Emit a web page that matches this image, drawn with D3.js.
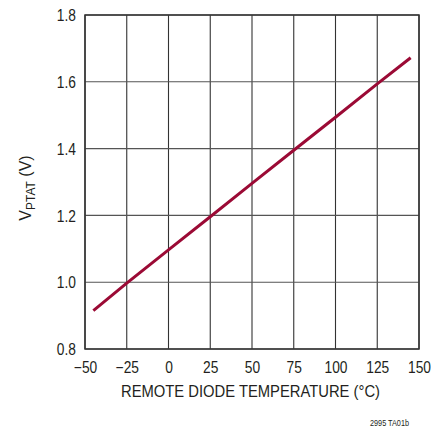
<!DOCTYPE html>
<html><head><meta charset="utf-8">
<script src="https://cdn.jsdelivr.net/npm/d3@7"></script>
<style>body{margin:0;background:#fff}svg{display:block}text{font-family:"Liberation Sans",Arial,sans-serif;fill:#231f20}</style>
</head><body><svg id="c" width="446" height="428"></svg>
<script>
const temps = [-45, -25, 0, 25, 50, 75, 100, 125, 145];
const vptat = [0.915, 0.997, 1.097, 1.196, 1.296, 1.395, 1.494, 1.594, 1.672];
const xTicks = [-50, -25, 0, 25, 50, 75, 100, 125, 150];
const yTicks = [0.8, 1.0, 1.2, 1.4, 1.6, 1.8];

const svg = d3.select("#c");
const L = 85, R = 419, T = 15, B = 349;
const x = d3.scaleLinear().domain([-50, 150]).range([L, R]);
const y = d3.scaleLinear().domain([0.8, 1.8]).range([B, T]);

function condense(sel, k) {
  sel.each(function () {
    const len = this.getComputedTextLength();
    d3.select(this).attr("textLength", len * k).attr("lengthAdjust", "spacingAndGlyphs");
  });
}

const g = svg.append("g");
g.selectAll("line.v").data(xTicks).join("line")
  .attr("x1", d => x(d)).attr("x2", d => x(d)).attr("y1", T).attr("y2", B)
  .attr("stroke", "#333").attr("stroke-width", 1.1);
g.selectAll("line.h").data(yTicks).join("line")
  .attr("y1", d => y(d)).attr("y2", d => y(d)).attr("x1", L).attr("x2", R)
  .attr("stroke", "#555").attr("stroke-width", 1.1);
g.append("rect").attr("x", L).attr("y", T).attr("width", R - L).attr("height", B - T)
  .attr("fill", "none").attr("stroke", "#333").attr("stroke-width", 1.5);

const fmtX = d => d < 0 ? "\u2212" + Math.abs(d) : String(d);
const xAxis = d3.axisBottom(x).tickValues(xTicks).tickFormat(fmtX).tickSize(0).tickPadding(0);
const xa = svg.append("g").attr("transform", `translate(0,${B})`).call(xAxis);
xa.select(".domain").remove();
xa.selectAll("text").attr("dy", null).attr("y", 24).style("font-size", "16px").call(condense, 0.86);

const yAxis = d3.axisLeft(y).tickValues(yTicks).tickFormat(d3.format(".1f")).tickSize(0).tickPadding(0);
const ya = svg.append("g").attr("transform", `translate(${L},0)`).call(yAxis);
ya.select(".domain").remove();
ya.selectAll("text").attr("x", -9).attr("dy", "0.36em").style("font-size", "16px").call(condense, 0.86);

const line = d3.line().x((d, i) => x(temps[i])).y(d => y(d));
svg.append("path").datum(vptat).attr("d", line)
  .attr("fill", "none").attr("stroke", "#9b0a35").attr("stroke-width", 3).attr("stroke-linecap", "butt");

svg.append("text").attr("x", 250.5).attr("y", 397).attr("text-anchor", "middle")
  .style("font-size", "16px").text("REMOTE DIODE TEMPERATURE (°C)")
  .attr("textLength", 259).attr("lengthAdjust", "spacingAndGlyphs");

const yt = svg.append("text").attr("transform", "translate(31,188) rotate(-90)").attr("text-anchor", "middle")
  .style("font-size", "16px");
yt.append("tspan").text("V");
yt.append("tspan").attr("dy", 4).style("font-size", "12px").text("PTAT");
yt.append("tspan").attr("dy", -4).text(" (V)");

svg.append("text").attr("x", 409).attr("y", 426).attr("text-anchor", "end")
  .style("font-size", "9.5px").text("2995 TA01b")
  .attr("textLength", 39).attr("lengthAdjust", "spacingAndGlyphs");
</script></body></html>
